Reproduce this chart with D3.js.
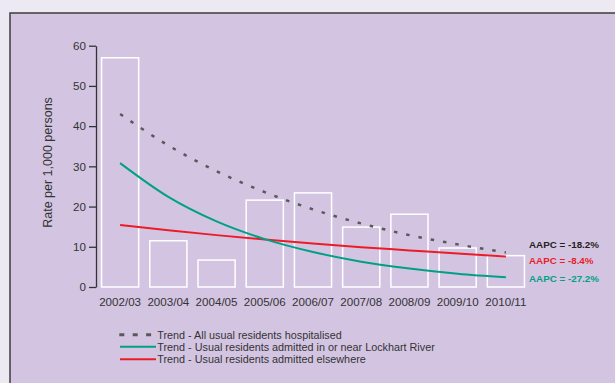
<!DOCTYPE html>
<html><head><meta charset="utf-8">
<script src="https://cdn.jsdelivr.net/npm/d3@7/dist/d3.min.js"></script>
<style>body{margin:0;background:#ECE9F3;}svg{display:block;font-family:"Liberation Sans",Arial,sans-serif;}</style>
</head><body><svg id="c" width="615" height="383"></svg>
<script>
const categories = ["2002/03","2003/04","2004/05","2005/06","2006/07","2007/08","2008/09","2009/10","2010/11"];
const barValues = [57, 11.5, 6.7, 21.6, 23.4, 14.9, 18.1, 9.7, 7.8];
const trendAll = [43, 35.2, 28.8, 23.6, 19.3, 15.8, 12.9, 10.6, 8.6];
const trendNear = [30.8, 22.4, 16.3, 11.9, 8.7, 6.3, 4.6, 3.3, 2.4];
const trendElse = [15.4, 14.1, 12.9, 11.8, 10.8, 9.9, 9.1, 8.3, 7.6];
const yTicks = [0,10,20,30,40,50,60];
const aapcLabels = ["AAPC = -18.2%","AAPC = -8.4%","AAPC = -27.2%"];
const legendLabels = ["Trend - All usual residents hospitalised","Trend - Usual residents admitted in or near Lockhart River","Trend - Usual residents admitted elsewhere"];

const C = {bg:"#ECE9F3", panel:"#D3C5E2", text:"#333333", grey:"#58595B", green:"#00A086", red:"#EC1C27"};
const svg = d3.select("#c");
svg.append("rect").attr("x",10).attr("y",13).attr("width",640).attr("height",400)
  .attr("fill",C.panel).attr("stroke","#3c3c3c").attr("stroke-width",1.5);

const x = d3.scaleBand().domain(categories).range([96,530]).paddingInner(0.23).paddingOuter(0.115);
const y = d3.scaleLinear().domain([0,60]).range([287,45.7]);

// bars
svg.append("g").selectAll("rect").data(barValues).join("rect")
  .attr("x",(d,i)=>x(categories[i])).attr("width",x.bandwidth())
  .attr("y",d=>y(d)).attr("height",d=>y(0)-y(d))
  .attr("fill","none").attr("stroke","#ffffff").attr("stroke-width",1.5);

// y axis
const ya = svg.append("g").attr("transform","translate(96,0)")
  .call(d3.axisLeft(y).tickValues(yTicks).tickSize(7).tickPadding(3).tickSizeOuter(0));
ya.select(".domain").attr("stroke",C.text).attr("stroke-width",1.3);
ya.selectAll(".tick line").attr("stroke",C.text).attr("stroke-width",1.3);
ya.selectAll("text").attr("font-size","11.6px").attr("fill",C.text).attr("font-family","Liberation Sans, Arial, sans-serif");

// x labels
const xa = svg.append("g").attr("transform","translate(0,287)")
  .call(d3.axisBottom(x).tickSize(0).tickPadding(11));
xa.select(".domain").remove();
xa.selectAll("text").attr("font-size","11.6px").attr("fill",C.text).attr("font-family","Liberation Sans, Arial, sans-serif");

// y title
svg.append("text").attr("transform","translate(52,162.5) rotate(-90)").attr("text-anchor","middle")
  .attr("font-size","12.5px").attr("fill",C.text).text("Rate per 1,000 persons");

const cx = i => x(categories[i]) + x.bandwidth()/2;
const line = d3.line().x((d,i)=>cx(i)).y(d=>y(d)).curve(d3.curveMonotoneX);
svg.append("path").attr("d",line(trendElse)).attr("fill","none").attr("stroke",C.red).attr("stroke-width",2);
svg.append("path").attr("d",line(trendNear)).attr("fill","none").attr("stroke",C.green).attr("stroke-width",2);
svg.append("path").attr("d",line(trendAll)).attr("fill","none").attr("stroke",C.grey).attr("stroke-width",2.5).attr("stroke-dasharray","3.5,9");

// AAPC labels
const aapcColors = [ "#231F20", C.red, C.green];
const aapcY = [247.5, 264, 282.3];
aapcLabels.forEach((t,i)=>{
  svg.append("text").attr("x",529).attr("y",aapcY[i]).attr("font-size","9.8px").attr("font-weight","bold")
    .attr("fill",aapcColors[i]).text(t);
});

// legend
const legY = [334.7, 346.7, 359.3];
const legText = [339, 350.8, 363];
const lg = svg.append("g");
lg.append("line").attr("x1",119.3).attr("x2",152).attr("y1",legY[0]).attr("y2",legY[0])
  .attr("stroke",C.grey).attr("stroke-width",3).attr("stroke-dasharray","5,8.4");
lg.append("line").attr("x1",120).attr("x2",156).attr("y1",legY[1]).attr("y2",legY[1]).attr("stroke",C.green).attr("stroke-width",2);
lg.append("line").attr("x1",120).attr("x2",156).attr("y1",legY[2]).attr("y2",legY[2]).attr("stroke",C.red).attr("stroke-width",2);
legendLabels.forEach((t,i)=>{
  lg.append("text").attr("x",157.3).attr("y",legText[i]).attr("font-size","10.8px").attr("fill",C.text).text(t);
});
</script></body></html>
